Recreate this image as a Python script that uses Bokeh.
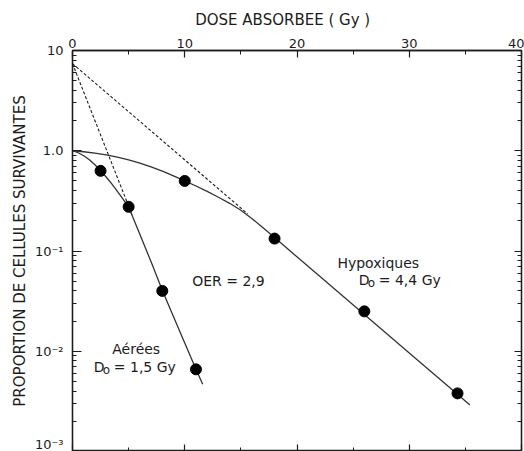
from bokeh.plotting import figure
from bokeh.models import (LinearAxis, LogAxis, FixedTicker, LogTicker,
                          CustomJSTickFormatter, Range1d)
from bokeh.embed import file_html
from bokeh.resources import INLINE
from bokeh.core.properties import value

# ---------------- data ----------------
# measured points
aer_dose = [2.5, 5.0, 8.0, 11.0]
aer_surv = [0.63, 0.276, 0.040, 0.0066]
hyp_dose = [10.0, 18.0, 26.0, 34.3]
hyp_surv = [0.50, 0.133, 0.025, 0.0038]

# fitted survival curves
aer_curve_dose = [0, 0.5, 1, 1.5, 2, 2.5, 3, 3.5, 4, 4.5, 5, 6, 7, 8, 9, 10, 11, 11.6]
aer_curve_surv = [1.0, 0.955, 0.891, 0.813, 0.724, 0.631, 0.547, 0.468, 0.394, 0.330,
                  0.274, 0.147, 0.078, 0.0407, 0.0221, 0.0121, 0.0066, 0.00468]
hyp_curve_dose = [0, 1, 2, 3, 4, 5, 6, 7, 8, 9, 10, 11, 12, 13, 14, 15, 16, 17, 18,
                  22, 26, 30, 34.3, 35.4]
hyp_curve_surv = [1.0, 0.977, 0.946, 0.908, 0.863, 0.809, 0.752, 0.692, 0.627, 0.562,
                  0.501, 0.445, 0.393, 0.344, 0.299, 0.255, 0.210, 0.170, 0.136,
                  0.0562, 0.0232, 0.0096, 0.00372, 0.00291]

# extrapolated straight parts (dashed)
aer_extrap_dose = [0, 5.3]
aer_extrap_surv = [7.4, 0.23]
hyp_extrap_dose = [0, 15.6]
hyp_extrap_surv = [7.4, 0.235]

# axes
x_major_ticks = [0, 10, 20, 30, 40]
x_minor_ticks = [5, 15, 25, 35]
y_tick_exponents = [-3, -2, -1, 0, 1]
y_tick_labels = ["10\u207b\u00b3", "10\u207b\u00b2", "10\u207b\u00b9", "1.0", "10"]

FONT = "DejaVu Sans"
INK = "#1c1c1c"

# ---------------- figure ----------------
p = figure(width=524, height=451,
           x_range=Range1d(0, 40), y_range=Range1d(1e-3, 10),
           y_axis_type="log", x_axis_location="above",
           output_backend="svg", toolbar_location=None,
           min_border_left=72, min_border_right=3,
           min_border_top=50, min_border_bottom=0,
           background_fill_color="white", border_fill_color="white")
p.grid.visible = False
p.outline_line_color = INK
p.outline_line_width = 1.3

yfmt = CustomJSTickFormatter(args=dict(exps=y_tick_exponents, labels=y_tick_labels),
                             code="""
const e = Math.round(Math.log10(tick));
const i = exps.indexOf(e);
return i >= 0 ? labels[i] : '';
""")
blank = CustomJSTickFormatter(code="return '';")


def style_axis(ax, label_size="13px"):
    ax.axis_line_color = INK
    ax.axis_line_width = 1.3
    ax.major_tick_line_color = INK
    ax.minor_tick_line_color = INK
    ax.major_tick_line_width = 1.2
    ax.minor_tick_line_width = 1.0
    ax.major_tick_out = 0
    ax.minor_tick_out = 0
    ax.major_tick_in = 7
    ax.minor_tick_in = 4
    ax.major_label_text_color = INK
    ax.major_label_text_font = FONT
    ax.major_label_text_font_size = label_size
    ax.axis_label_text_font = FONT
    ax.axis_label_text_color = INK
    ax.axis_label_text_font_style = "normal"


# top axis
top = p.above[0]
top.ticker = FixedTicker(ticks=x_major_ticks, minor_ticks=x_minor_ticks)
style_axis(top)
top.major_label_standoff = 3
top.axis_label = "DOSE   ABSORBEE   ( Gy   )"
top.axis_label_text_font_size = "15px"
top.axis_label_standoff = 7

# left axis
left = p.left[0]
left.ticker = LogTicker(num_minor_ticks=10)
left.formatter = yfmt
style_axis(left)
left.major_tick_in = 9
left.major_label_standoff = 9
left.axis_label = "PROPORTION DE CELLULES SURVIVANTES"
left.axis_label_text_font_size = "15px"
left.axis_label_standoff = 3

# bottom and right axes (ticks only)
bottom = LinearAxis(ticker=FixedTicker(ticks=x_major_ticks, minor_ticks=x_minor_ticks),
                    formatter=blank)
style_axis(bottom, "1px")
bottom.major_label_standoff = 0
bottom.axis_label_standoff = 0
p.add_layout(bottom, "below")

right = LogAxis(ticker=LogTicker(num_minor_ticks=10), formatter=blank)
style_axis(right, "1px")
right.major_label_standoff = 0
right.axis_label_standoff = 0
p.add_layout(right, "right")

# ---------------- glyphs ----------------
p.line(aer_extrap_dose, aer_extrap_surv, line_color=INK, line_width=1.1, line_dash="3 2")
p.line(hyp_extrap_dose, hyp_extrap_surv, line_color=INK, line_width=1.1, line_dash="3 2")
p.line(aer_curve_dose, aer_curve_surv, line_color="#333333", line_width=1.3)
p.line(hyp_curve_dose, hyp_curve_surv, line_color="#333333", line_width=1.3)
p.scatter(aer_dose, aer_surv, size=11, fill_color="black", line_color="black")
p.scatter(hyp_dose, hyp_surv, size=11, fill_color="black", line_color="black")

txt = dict(text_font=value(FONT), text_font_size="14px", text_color=INK,
           text_align="left", text_baseline="middle")
sub = {**txt, "text_font_size": "12px"}
p.text(x=[10.66], y=[0.050], text=["OER = 2,9"], **txt)
p.text(x=[23.6], y=[0.0757], text=["Hypoxiques"], **txt)
p.text(x=[25.5], y=[0.0509], text=["D"], **txt)
p.text(x=[25.5], y=[0.0509], text=["o"], x_offset=9, y_offset=3, **sub)
p.text(x=[25.5], y=[0.0509], text=["= 4,4 Gy"], x_offset=20, **txt)
p.text(x=[3.54], y=[0.01064], text=["Aérées"], **txt)
p.text(x=[1.9], y=[0.0069], text=["D"], **txt)
p.text(x=[1.9], y=[0.0069], text=["o"], x_offset=9, y_offset=3, **sub)
p.text(x=[1.9], y=[0.0069], text=["= 1,5 Gy"], x_offset=20, **txt)

open("out.html", "w").write(file_html(p, INLINE))
